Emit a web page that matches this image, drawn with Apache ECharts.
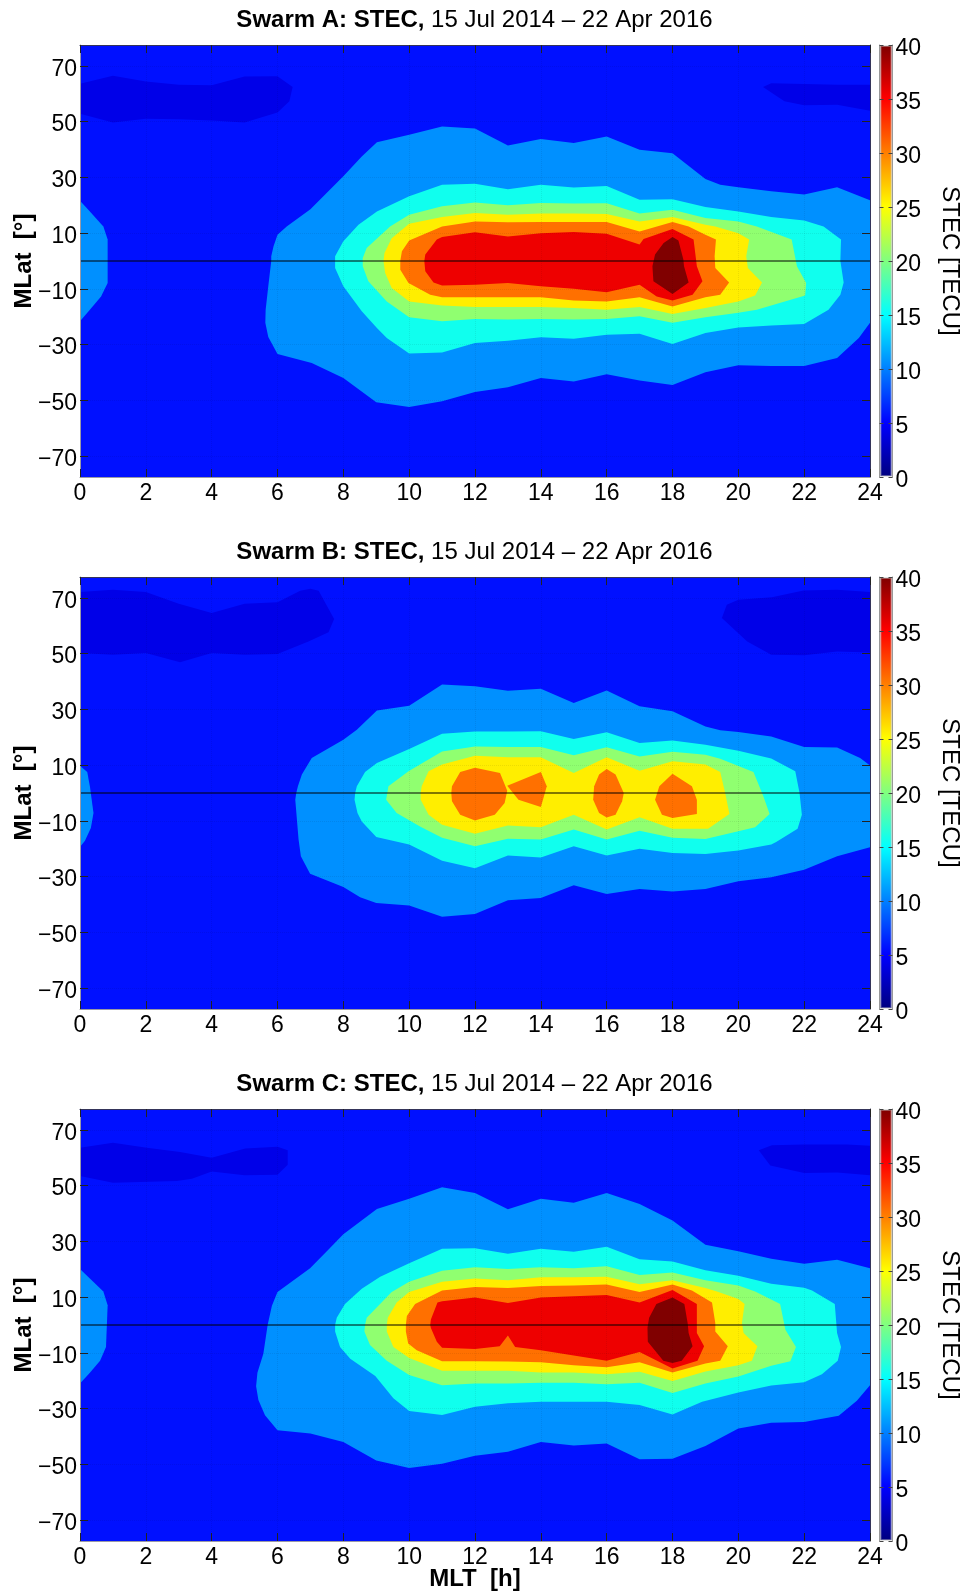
<!DOCTYPE html>
<html><head><meta charset="utf-8">
<style>html,body{margin:0;padding:0;background:#fff}#c{width:969px;height:1596px}</style>
<script src="https://cdn.jsdelivr.net/npm/echarts@6/dist/echarts.min.js"></script>
</head><body><div id="c"></div>
<script>
// ---------- tick labels and titles ----------
const latTicks = [-70,-50,-30,-10,10,30,50,70];
const cbarTicks = [0,5,10,15,20,25,30,35,40];
const boldTitles = ['Swarm A: STEC,','Swarm B: STEC,','Swarm C: STEC,'];
const dateRange = '15 Jul 2014 \u2013 22 Apr 2016';
const domain = [[0,-77.5],[24,-77.5],[24,77.5],[0,77.5]];

// ---------- Swarm A contours, [MLT h, MLat deg] ----------
const A_low1 = [[0,63.6],[1,66.5],[2,64.4],[3,63.2],[4,63.1],[5,66.2],[6,66.3],[6.46,62.4],[6.36,57.3],[6,53.3],[5,49.7],[4,50.4],[3,50.9],[2,51],[1,49.7],[0,52.8]];
const A_low2 = [[20.75,62.4],[21,63.8],[22,63.5],[23,63.2],[24,63.2],[24,53.9],[23,56.1],[22,55.9],[21.4,57.3]];
const A_edge = [[0,21.6],[.3,17.8],[.71,12.4],[.84,7.7],[.84,-7.9],[.64,-12.7],[.3,-17.5],[0,-21.6]];
const A_10 = [[5.81,1.7],[5.88,5.3],[6,9.4],[6.28,12.4],[7,18.6],[8,30.4],[8.56,37.5],[9.02,42.6],[10,45.3],[11,48.3],[12,47.5],[13,41.4],[14,43.8],[15,42.3],[16,44.7],[17,39.9],[18,38.7],[19,29.4],[19.45,27.4],[20,26.5],[21,25],[22,23.9],[23,26.5],[24,21.8],[24,-22.2],[23.66,-27.6],[23,-34.8],[22,-37.7],[21,-37.7],[20,-37.4],[19,-39.9],[18,-44.5],[17,-42.9],[16,-40.6],[15,-43.2],[14,-42],[13,-45.3],[12,-47],[11,-50.3],[10,-52.4],[9,-50.7],[8,-42],[7.04,-36.6],[6,-33.4],[5.72,-27.3],[5.63,-22.2],[5.64,-17.5],[5.72,-9.1],[5.81,0]];
const A_15 = [[7.75,1.7],[8,7.1],[8.46,13],[9.02,17.8],[10,23.2],[11,27.4],[12,27.7],[13,25.7],[14,27.4],[15,26.4],[16,26.9],[17,22],[18,22.2],[19,19.4],[20,17.8],[21,15.8],[22,14.5],[22.59,12.4],[23.12,7.7],[23.1,0],[23.2,-7.7],[23.1,-12.1],[22.74,-17.5],[22,-22.6],[21,-23.1],[20,-23.9],[19,-25.8],[18,-29.8],[17,-26.1],[16,-26.5],[15,-27.9],[14,-27.4],[13,-28.6],[12,-29.4],[11,-32.8],[10,-33.2],[9.32,-27.6],[9.02,-24],[8.56,-18],[8,-9.1],[7.75,-2.5]];
const A_20 = [[8.59,1.1],[8.71,4.7],[9.42,12.4],[10,16.6],[11,19.6],[12,21],[13,20],[14,20.8],[15,20.6],[16,20.7],[17,17],[18,18.4],[19,15.4],[20,14.2],[20.56,12.4],[21.62,7.7],[21.78,-1.9],[22.06,-7.9],[22.03,-12.4],[20.56,-17.5],[20,-18.6],[19,-20.2],[18,-22.2],[17,-19.8],[16,-20.8],[15,-21],[14,-20.8],[13,-21],[12,-20.8],[11,-21.6],[10,-20.2],[9.32,-14.5],[8.76,-7.3],[8.59,-1.9]];
const A_25 = [[9.22,0],[9.25,2.9],[9.47,8.2],[10,13.4],[11,15.8],[12,17.2],[13,16.6],[14,17],[15,17],[16,16.9],[17,14.2],[18,15.8],[19,13],[19.3,12.4],[20,10],[20.33,7.7],[20.24,1.7],[20.29,-2.5],[20.72,-7.7],[20.51,-12.4],[20,-14.5],[19,-16.9],[18,-19],[17,-16.5],[16,-17.5],[15,-16.9],[14,-16.5],[13,-16.5],[12,-16.5],[11,-16],[10,-14.5],[9.47,-9.7],[9.27,-4.3]];
const A_30 = [[9.73,0],[9.78,3.5],[10,7.4],[11,12.4],[12,14.2],[13,13.9],[14,14],[15,14],[16,14],[17,10.6],[18,14],[18.49,12.4],[19,9.4],[19.32,7.7],[19.28,1.7],[19.3,-2.5],[19.72,-7.7],[19.45,-12.1],[19,-13],[18,-16.3],[17,-13],[16,-14.5],[15,-14.2],[14,-13],[13,-13],[12,-13],[11,-13],[10.64,-12.1],[9.98,-7.9],[9.73,-3.1]];
const A_35 = [[10.46,0],[10.49,2.3],[10.84,7.7],[11,8.6],[12,10.3],[13,8.8],[14,10],[15,10.4],[16,9.8],[17,5.9],[17.12,7.9],[18,11.5],[18.64,7.7],[18.74,-1.9],[18.91,-7.3],[18.61,-12.1],[18,-14.2],[17.52,-12.7],[17,-8.5],[16,-11.2],[15,-10],[14,-9.1],[13,-7.9],[12,-8.5],[11,-8.8],[10.74,-7.7],[10.49,-3.7]];
const A_40 = [[17.39,-1.9],[17.47,2.3],[17.73,6.5],[18,8.6],[18.18,7.4],[18.33,.5],[18.35,-1.9],[18.49,-7.7],[18,-11.8],[17.42,-7.3]];

// ---------- Swarm B contours ----------
const B_low1 = [[0,72.1],[1,72.9],[2,72.1],[3,67.9],[4,64.6],[5,67.9],[6,68.4],[6.69,72.6],[7,73.3],[7.25,72.6],[7.72,62.4],[7.55,57.7],[6.94,54.4],[6,49.9],[5,49.6],[4,50.2],[3.04,46.9],[2,50.2],[1,49.6],[0,50.2]];
const B_low2 = [[19.5,62.8],[19.65,67.5],[20,69.3],[21.02,70.2],[21.98,72.7],[23,72.9],[24,72.1],[24,50.4],[23,50.8],[22,49.4],[21,49.6],[20.27,54.4]];
const B_edge = [[0,9.8],[.22,7.5],[.3,2.4],[.41,-7.2],[.33,-12.6],[.15,-17.1],[0,-19.4]];
const B_10 = [[6.57,0],[6.62,2.4],[6.74,6.6],[7.04,12.6],[8,19.1],[8.41,22.7],[9.02,29.6],[10,31.3],[11,38.9],[12,38.3],[13,36.7],[14,37.4],[15,32.3],[16,36.8],[17,31.1],[18,29.3],[19,23.9],[19.45,22.5],[20,21.9],[21,20.3],[22,16.5],[23,16.3],[23.7,12.6],[24,9.9],[24,-19.5],[23,-22.7],[22,-27.5],[21,-30.2],[20,-31.7],[19,-34.4],[18,-35.3],[17,-34.4],[16,-36.2],[15,-33.1],[14,-37.7],[13,-38.5],[12,-43.4],[11,-44.4],[10,-40.4],[9,-39.5],[8.51,-37.4],[8,-33.7],[6.99,-29],[6.71,-22.7],[6.64,-16.7],[6.54,-2.4]];
const B_15 = [[8.36,0],[8.41,2.4],[8.66,7.5],[9.02,10.8],[10,15.8],[11,21.3],[12,22.1],[13,22.1],[14,22.2],[15,19.4],[16,21.8],[17,17.9],[18,18.8],[19,17.3],[20,15.2],[21,12.4],[21.73,7.8],[21.86,0],[21.93,-7.8],[21.8,-12.8],[21.15,-17.6],[21,-18.5],[20,-20.6],[19,-21.9],[18,-21.5],[17,-20],[16,-22.4],[15,-19.1],[14,-23.1],[13,-22.4],[12,-27],[11,-24.3],[10,-18.5],[9,-15.8],[8.56,-10.2],[8.43,-7.2],[8.34,-2.4]];
const B_20 = [[9.3,-2.4],[9.37,2.4],[9.98,7.8],[11,14.9],[12,16.7],[13,16.5],[14,16.5],[15,13.5],[16,16.4],[17,13.1],[18,14.8],[19,13.7],[19.45,12.3],[20.46,7.5],[20.76,-1.2],[20.95,-7.5],[20.51,-12.3],[20,-13.7],[19,-16.5],[18,-16.1],[17,-13.5],[16,-16.7],[15,-13.1],[14,-16.7],[13,-16.4],[12,-19.1],[11,-16.1],[10.33,-12],[9.62,-7.2]];
const B_25 = [[10.35,0],[10.38,2.4],[10.59,7.8],[11,10.2],[12,13.4],[13,12.8],[14,12.8],[15,7.2],[16,12.8],[17,8],[18,11.4],[19,10.2],[19.45,7.5],[19.6,0],[19.73,-7.5],[19.08,-12.8],[18,-12.8],[17,-8.7],[16,-13.1],[15,-7.8],[14,-12.3],[13,-11.7],[12,-14.6],[11,-11.4],[10.59,-7.8],[10.35,-2.4]];
const B_30a = [[11.28,0],[11.3,2.4],[11.55,7.5],[12,9.1],[12.76,7.2],[12.98,.8],[12.9,-3.6],[12.6,-7.8],[12.15,-9.3],[12,-9.9],[11.55,-7.8],[11.3,-3]];
const B_30b = [[12.98,2.6],[14,7.5],[14.18,2.4],[14.08,-1.8],[14,-5],[13.32,-2.4]];
const B_30c = [[16,8.6],[16.27,6.6],[16.52,0],[16.47,-3],[16.27,-7.8],[16,-8.8],[15.77,-7.2],[15.59,-2.4],[15.62,2.4],[15.77,6.6]];
const B_30d = [[18,6.9],[18.59,2.4],[18.74,-2.4],[18.74,-7.5],[18,-9],[17.68,-7.8],[17.47,-2.4],[17.6,2.4]];

// ---------- Swarm C contours ----------
const C_low1 = [[0,63.6],[1,65.4],[2.03,63.6],[3.04,62.1],[4,60],[5.02,63.3],[6,64],[6.31,62.7],[6.31,57.5],[6,53.9],[5,53.7],[4,55.1],[3.4,52.5],[2.94,51.7],[1,51],[0,53.5]];
const C_low2 = [[20.62,62.7],[21.02,64.5],[22,64.8],[23.3,64.8],[24,64.3],[24,53.7],[23,54.7],[22,54.5],[20.97,57.2]];
const C_edge = [[0,20.1],[.71,12],[.84,7.1],[.79,-7.9],[.61,-12.8],[.3,-17.1],[0,-21]];
const C_10 = [[5.7,0],[5.83,6.9],[6,11.8],[6.99,20.4],[7.55,27.1],[8,32.6],[9.02,41.6],[10,45.3],[11,49.4],[12,47.4],[13,41.5],[14,45.3],[15,43.9],[16,47.4],[17,43.4],[18,37.5],[19,28.8],[20,26.5],[21,23.8],[22,22],[23,23.4],[24,20.4],[24,-21.6],[23.6,-27.2],[23.05,-32.6],[22,-34.8],[21,-35.1],[20,-37.1],[19,-43.4],[18,-48],[17,-48.2],[16,-42.5],[15,-43.2],[14,-42],[13,-45.5],[12,-46.9],[11,-49.8],[10,-51.3],[9,-48.6],[8,-42],[7,-38.9],[6,-37.8],[5.62,-32.4],[5.42,-26.9],[5.35,-22],[5.39,-17.1],[5.57,-10.3]];
const C_15 = [[7.75,0],[7.8,2.6],[8.05,7.5],[8.56,13],[9.12,17.3],[10,22.2],[11,27.4],[12,27.5],[13,25.6],[14,27.4],[15,26.3],[16,28.1],[17,23.6],[18,22.8],[19,19.6],[20,17.7],[21,14.8],[22,13.4],[22.24,12.4],[22.93,7.5],[23,-2.9],[23.12,-7.9],[23.02,-12.8],[22.54,-17.7],[22,-20.5],[21,-21.7],[20,-24.2],[18.9,-27.5],[18,-32.1],[17,-28.7],[16,-27.5],[15,-27.5],[14,-27.5],[13,-28.1],[12,-29.3],[11,-32.3],[10,-30.9],[9.52,-26.3],[8.97,-18.3],[8.21,-12.1],[7.9,-7.9],[7.75,-2.3]];
const C_20 = [[8.66,0],[8.71,2.6],[9.47,11.8],[10,15.5],[11,19.5],[12,20.7],[13,20.1],[14,20.7],[15,20.4],[16,21.1],[17,17.9],[18,18.8],[19,16.1],[20,14.2],[20.51,12],[21.27,7.5],[21.43,-1.7],[21.75,-7.9],[21.58,-13],[21,-14.6],[20,-18.5],[19,-21],[18,-24.4],[17,-20.7],[16,-21.3],[15,-20.7],[14,-20.7],[13,-21],[12,-21],[11,-21.6],[10,-17.9],[9.32,-12.8],[8.81,-7.2],[8.64,-2.3]];
const C_25 = [[9.32,0],[9.35,2.6],[9.62,8.1],[10,11.8],[11,15.5],[12,16.7],[13,16.1],[14,17.1],[15,17.1],[16,17.3],[17,14.6],[18,16.1],[19,13.3],[19.35,12],[20,9.3],[20.19,7.5],[20.11,.7],[20.16,-2.9],[20.58,-7.6],[20.41,-12.8],[20,-14.4],[19,-16.7],[18,-20.1],[17,-16.8],[16,-17.7],[15,-17],[14,-17],[13,-16.4],[12,-16.4],[11,-16.4],[10,-11.8],[9.52,-7.9],[9.32,-2.3]];
const C_30 = [[9.9,0],[9.93,3.2],[10.18,7.5],[11,12.4],[12,13.6],[13,13.3],[14,14],[15,14.2],[16,14.5],[17,11.8],[18,14.5],[18.59,12.4],[19.2,8.1],[19.3,.7],[19.3,-2.3],[19.68,-7.6],[19.45,-12.8],[19,-13.8],[18,-17],[17,-13.4],[16,-15.2],[15,-14.4],[14,-13.4],[13,-13.1],[12,-13],[11,-13],[10.23,-9.1],[9.97,-6.6],[9.9,-2.3]];
const C_35 = [[10.64,0],[10.66,2],[10.86,8.1],[11,8.5],[12,9.9],[13,7.9],[14,9.9],[15,10.3],[16,10.8],[17,8.1],[18,12.6],[18.74,7.5],[18.74,-2.9],[18.96,-7.6],[18.76,-12.8],[18,-15.6],[17,-9.7],[16,-12.8],[15,-10.9],[14,-9.1],[13.22,-7.9],[13,-3.8],[12.75,-7.6],[12,-8.6],[11,-8.2],[10.84,-6],[10.66,-1.1]];
const C_40 = [[17.24,-1],[17.29,2.6],[17.51,7.5],[18,9.9],[18.36,7.5],[18.46,.7],[18.49,-2.9],[18.61,-7.6],[18.28,-12.8],[18,-13.6],[17.72,-12.8],[17.25,-6]];

// ---------- fill colours of the contour bands ----------
const cBack='#0010ff', cLow='#0000e8', c10='#0090ff', c15='#10ffee', c20='#90ff70', c25='#ffee00', c30='#ff7000', c35='#ee0000', c40='#800000';

const panels = [
 {top:45, height:432, rings:[[domain,cBack],[A_low1,cLow],[A_low2,cLow],[A_edge,c10],[A_10,c10],[A_15,c15],[A_20,c20],[A_25,c25],[A_30,c30],[A_35,c35],[A_40,c40]]},
 {top:577,height:432, rings:[[domain,cBack],[B_low1,cLow],[B_low2,cLow],[B_edge,c10],[B_10,c10],[B_15,c15],[B_20,c20],[B_25,c25],[B_30a,c30],[B_30b,c30],[B_30c,c30],[B_30d,c30]]},
 {top:1109,height:432,rings:[[domain,cBack],[C_low1,cLow],[C_low2,cLow],[C_edge,c10],[C_10,c10],[C_15,c15],[C_20,c20],[C_25,c25],[C_30,c30],[C_35,c35],[C_40,c40]]}
];

const FONT='"Liberation Sans",Helvetica,Arial,sans-serif';
const TICKFS=23, frameLight='#9a9aa6', frameDark='#34345a';
const jet=[[0,'#00007f'],[.125,'#0000ff'],[.375,'#00ffff'],[.625,'#ffff00'],[.875,'#ff0000'],[1,'#7f0000']];
const minus=v=>String(v).replace('-','\u2212');

const grid=[],xAxis=[],yAxis=[],series=[],title=[];
panels.forEach((p,i)=>{
  const g=grid.length;
  grid.push({left:80,width:790,top:p.top,height:p.height,outerBoundsMode:'none'});
  const ax=xAxis.length, ay=yAxis.length;
  xAxis.push({gridIndex:g,type:'value',min:0,max:24,interval:2,position:'bottom',z:5,
    axisLine:{show:true,onZero:false,lineStyle:{color:frameLight,width:1}},
    axisTick:{show:true,inside:true,length:8,lineStyle:{color:'#222',width:1}},
    splitLine:{show:true,lineStyle:{color:'rgba(0,0,0,0.07)',type:'dotted',width:1}},
    axisLabel:{show:true,margin:5,fontFamily:FONT,fontSize:TICKFS,color:'#000',showMinLabel:true,showMaxLabel:true},
    name:i===2?'MLT  [h]':'',nameLocation:'middle',nameGap:26,nameMoveOverlap:false,
    nameTextStyle:{fontFamily:FONT,fontWeight:'bold',fontSize:24,color:'#000'}});
  xAxis.push({gridIndex:g,type:'value',min:0,max:24,interval:2,position:'top',z:5,
    axisLine:{show:true,onZero:false,lineStyle:{color:frameDark,width:1}},
    axisTick:{show:true,inside:true,length:8,lineStyle:{color:'#222',width:1}},
    splitLine:{show:false},axisLabel:{show:false}});
  yAxis.push({gridIndex:g,type:'value',min:-77.5,max:77.5,position:'left',z:5,
    axisLine:{show:true,onZero:false,lineStyle:{color:frameLight,width:1}},
    axisTick:{show:true,inside:true,length:8,customValues:latTicks,lineStyle:{color:'#222',width:1}},
    splitLine:{show:true,lineStyle:{color:'rgba(0,0,0,0.07)',type:'dotted',width:1}},
    axisLabel:{show:true,margin:3,customValues:latTicks,formatter:minus,lineHeight:7,verticalAlign:'top',fontFamily:FONT,fontSize:TICKFS,color:'#000'},
    name:'MLat  [\u00b0]',nameLocation:'middle',nameGap:44,nameRotate:90,nameMoveOverlap:false,
    nameTextStyle:{fontFamily:FONT,fontWeight:'bold',fontSize:24,color:'#000'}});
  yAxis.push({gridIndex:g,type:'value',min:-77.5,max:77.5,position:'right',z:5,
    axisLine:{show:true,onZero:false,lineStyle:{color:frameDark,width:1}},
    axisTick:{show:true,inside:true,length:8,customValues:latTicks,lineStyle:{color:'#222',width:1}},
    splitLine:{show:false},axisLabel:{show:false}});
  series.push({type:'custom',xAxisIndex:ax,yAxisIndex:ay,z:1,silent:true,clip:true,
    coordinateSystem:'cartesian2d',
    data:p.rings.map(r=>r[0][0]),
    encode:{x:0,y:1},
    renderItem:(params,api)=>{
      const r=p.rings[params.dataIndex];
      return {type:'polygon',shape:{points:r[0].map(q=>api.coord(q))},style:{fill:r[1]}};
    }});
  series.push({type:'line',xAxisIndex:ax,yAxisIndex:ay,z:2,silent:true,symbol:'none',
    data:[[0,0],[24,0]],lineStyle:{color:'#000',width:1}});
  title.push({left:469.5,top:p.top-42,textAlign:'center',
    text:'{b|'+boldTitles[i]+'}{r| '+dateRange+'}',
    textStyle:{fontWeight:'normal',rich:{
      b:{fontFamily:FONT,fontWeight:'bold',fontSize:24,color:'#000'},
      r:{fontFamily:FONT,fontWeight:'normal',fontSize:24,color:'#000'}}}});
  // colour bar
  const gb=grid.length;
  grid.push({left:879.5,width:13,top:p.top,height:p.height,outerBoundsMode:'none'});
  const bx=xAxis.length, by=yAxis.length;
  xAxis.push({gridIndex:gb,type:'category',data:['STEC'],show:false});
  yAxis.push({gridIndex:gb,type:'value',min:0,max:40,position:'right',z:5,
    axisLine:{show:true,lineStyle:{color:'#999',width:1}},
    axisTick:{show:true,inside:true,length:4,customValues:cbarTicks,lineStyle:{color:'#444',width:1}},
    splitLine:{show:false},
    axisLabel:{show:true,margin:3,customValues:cbarTicks,lineHeight:7,verticalAlign:'top',fontFamily:FONT,fontSize:TICKFS,color:'#000'},
    name:'STEC [TECU]',nameLocation:'middle',nameGap:45,nameRotate:-90,nameMoveOverlap:false,
    nameTextStyle:{fontFamily:FONT,fontSize:24,color:'#000'}});
  yAxis.push({gridIndex:gb,type:'value',min:0,max:40,position:'left',z:5,
    axisLine:{show:true,lineStyle:{color:'#999',width:1}},
    axisTick:{show:true,inside:true,length:4,customValues:cbarTicks,lineStyle:{color:'#444',width:1}},
    splitLine:{show:false},axisLabel:{show:false}});
  series.push({type:'bar',xAxisIndex:bx,yAxisIndex:by,z:1,silent:true,barWidth:'100%',
    data:[40],
    itemStyle:{borderColor:'rgba(190,190,190,0.45)',borderWidth:2,
      color:new echarts.graphic.LinearGradient(0,1,0,0,jet.map(s=>({offset:s[0],color:s[1]})))}});
});

const chart=echarts.init(document.getElementById('c'),null,{renderer:'canvas'});
chart.setOption({animation:false,backgroundColor:'#fff',title,grid,xAxis,yAxis,series,tooltip:{show:false},legend:{show:false}});
</script></body></html>
